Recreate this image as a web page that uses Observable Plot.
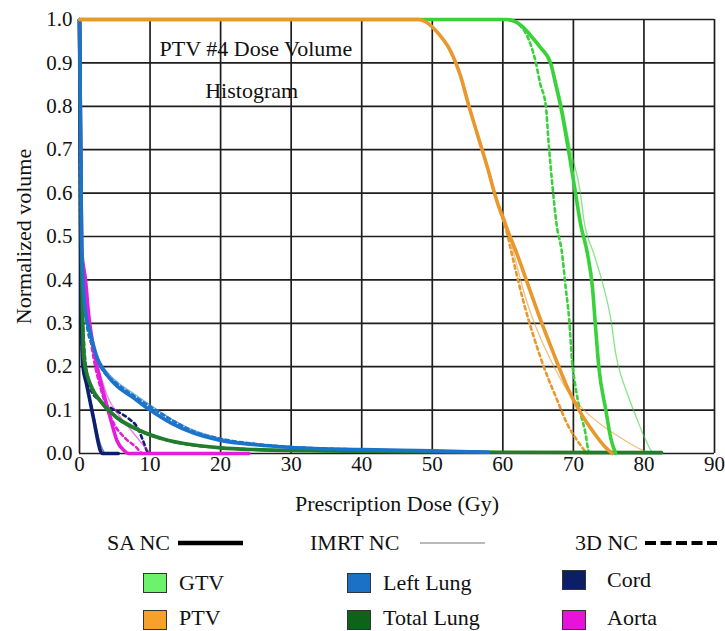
<!DOCTYPE html>
<html>
<head>
<meta charset="utf-8">
<script src="https://cdn.jsdelivr.net/npm/d3@7"></script>
<script src="https://cdn.jsdelivr.net/npm/@observablehq/plot@0.6"></script>
<style>
  html, body { margin: 0; padding: 0; background: #fff; }
  #page { position: relative; width: 725px; height: 631px; background: #fff; overflow: hidden;
          font-family: "Liberation Serif", "Times New Roman", serif; color: #111; }
  #chart svg { display: block; }
  .lg { position: absolute; font-size: 22px; line-height: 22px; white-space: nowrap; }
  .sw { position: absolute; width: 24px; height: 20px; box-sizing: border-box; border: 1px solid #333; }
  .ln { position: absolute; }
</style>
</head>
<body>
<div id="page">
  <div id="chart"></div>
  <div id="legend"></div>
</div>
<script>
// Dose–volume histogram curves: [dose (Gy), normalized volume]
const structures = ["Aorta", "Cord", "Total Lung", "Left Lung", "GTV", "PTV"];
const structureColors = ["#e41ed8", "#0b1f70", "#1f7d2c", "#1b74c9", "#39d23b", "#e8982c"];
const swatchColors = { GTV: "#6cf26c", PTV: "#f5a12a", "Left Lung": "#1a71c6", "Total Lung": "#0d6418", Cord: "#0c1f66", Aorta: "#e812d8" };

const xTicks = [0, 10, 20, 30, 40, 50, 60, 70, 80, 90];
const yTicks = [0, 0.1, 0.2, 0.3, 0.4, 0.5, 0.6, 0.7, 0.8, 0.9, 1.0];

// GTV
const gtvSA = [[0,1],[60.5,1],[61.8,0.995],[62.9,0.982],[64,0.962],[65.3,0.936],[66.8,0.898],[67.5,0.85],[68.2,0.8],[69.3,0.7],[70.3,0.6],[71,0.53],[72,0.46],[72.7,0.383],[73.1,0.3],[73.6,0.2],[74.6,0.1],[75.3,0.035],[76,0]];
const gtvIMRT = [[0,1],[60.5,1],[62,0.99],[63.5,0.97],[65.3,0.94],[66.8,0.9],[68.4,0.8],[69.6,0.7],[71,0.6],[71.5,0.537],[72.9,0.46],[74.3,0.383],[75.3,0.31],[76,0.23],[76.4,0.2],[77.6,0.14],[79,0.08],[80,0.04],[81.2,0.003],[81.5,0]];
const gtv3D = [[0,1],[60.5,1],[62.5,0.985],[63.5,0.96],[64.6,0.906],[65.3,0.852],[66.1,0.8],[66.5,0.714],[67,0.622],[67.6,0.53],[68.4,0.46],[68.9,0.383],[69.4,0.31],[69.8,0.215],[70.3,0.154],[71,0.094],[71.7,0.048],[72.2,0.003],[72.5,0]];

// PTV
const ptvSA = [[0,1],[48,1],[49.5,0.99],[51,0.965],[52.5,0.93],[54,0.87],[55.2,0.8],[56.5,0.73],[57.8,0.66],[59,0.59],[60.3,0.53],[62,0.46],[63.7,0.383],[65.3,0.31],[67.2,0.23],[69.1,0.154],[71,0.094],[72.9,0.048],[74.5,0.015],[75.5,0]];
const ptvIMRT = [[0,1],[48,1],[49.5,0.99],[51,0.965],[52.5,0.93],[54,0.87],[55.2,0.8],[56.5,0.73],[57.8,0.66],[59,0.59],[60.4,0.537],[61.8,0.445],[63.2,0.36],[64.9,0.283],[66.8,0.215],[69.1,0.146],[71.5,0.1],[74.3,0.062],[77.2,0.031],[79.5,0.01],[81,0]];
const ptv3D = [[0,1],[48,1],[49.5,0.99],[51,0.965],[52.5,0.93],[54,0.87],[55.2,0.8],[56.5,0.73],[57.8,0.66],[59,0.59],[60.4,0.52],[61.6,0.437],[63,0.345],[64.4,0.268],[65.8,0.2],[67.7,0.123],[69.1,0.069],[70.5,0.031],[71.7,0.005],[72,0]];

// Left Lung
const leftLungSA = [[0,1],[0.3,0.49],[0.8,0.33],[1.5,0.28],[2.5,0.22],[3.5,0.19],[5,0.16],[7.5,0.13],[10,0.1],[13,0.07],[16,0.048],[20,0.03],[25,0.02],[30,0.014],[40,0.009],[50,0.006],[58,0.003]];
const leftLungIMRT = [[0,1],[0.3,0.5],[1,0.33],[2,0.25],[3,0.21],[5,0.17],[7.5,0.14],[10,0.112],[13,0.08],[16,0.055],[20,0.035],[25,0.022],[30,0.016],[40,0.01],[50,0.006],[58,0.003]];
const leftLung3D = [[0,1],[0.3,0.45],[1,0.3],[2,0.24],[3,0.2],[5,0.165],[7.5,0.135],[10,0.108],[13,0.078],[16,0.052],[20,0.034],[25,0.022],[30,0.015],[40,0.009],[50,0.006],[58,0.003]];

// Total Lung
const totalLungSA = [[0,1],[0.3,0.45],[0.6,0.22],[1.5,0.16],[3,0.12],[5.5,0.08],[8.5,0.053],[12,0.033],[16,0.02],[20,0.013],[25,0.009],[35,0.006],[50,0.004],[60,0.003],[82.5,0.002]];
const totalLungIMRT = [[0,1],[0.3,0.5],[1,0.2],[2,0.15],[3,0.125],[5,0.09],[7.5,0.065],[10,0.045],[13,0.03],[16,0.02],[20,0.014],[25,0.01],[35,0.006],[50,0.004],[58,0.003]];
const totalLung3D = [[0,1],[0.3,0.4],[1,0.19],[2,0.145],[3,0.12],[5,0.085],[7.5,0.06],[10,0.042],[13,0.028],[16,0.019],[20,0.013],[25,0.009],[35,0.006],[50,0.004],[58,0.003]];

// Cord
const cordSA = [[0,1],[0.2,0.4],[0.5,0.2],[1,0.16],[2,0.08],[3,0.005],[3.3,0],[5.5,0]];
const cordIMRT = [[0,1],[0.3,0.25],[1,0.17],[2,0.09],[3,0.02],[3.6,0]];
const cord3D = [[0,1],[0.2,0.3],[0.6,0.2],[1.5,0.15],[3,0.12],[5,0.1],[7,0.08],[8.2,0.06],[9,0.03],[9.6,0.005],[10,0]];

// Aorta
const aortaSA = [[0,1],[0.3,0.47],[0.85,0.4],[1.3,0.32],[1.8,0.26],[2.5,0.2],[3.4,0.14],[4.4,0.08],[5.3,0.03],[6.3,0.007],[7,0],[24,0]];
const aortaIMRT = [[0,1],[0.3,0.42],[1,0.35],[2,0.24],[3,0.18],[4,0.13],[5.5,0.09],[7,0.06],[8.5,0.03],[9.5,0.01],[10.2,0]];
const aorta3D = [[0,1],[0.3,0.4],[1,0.33],[2,0.22],[3,0.15],[4,0.1],[5,0.065],[6.5,0.035],[8,0.015],[9,0],[9.3,0]];

const series = [
  ["Aorta", "SA", aortaSA], ["Aorta", "IMRT", aortaIMRT], ["Aorta", "3D", aorta3D],
  ["Cord", "SA", cordSA], ["Cord", "IMRT", cordIMRT], ["Cord", "3D", cord3D],
  ["Total Lung", "SA", totalLungSA], ["Total Lung", "IMRT", totalLungIMRT], ["Total Lung", "3D", totalLung3D],
  ["Left Lung", "SA", leftLungSA], ["Left Lung", "IMRT", leftLungIMRT], ["Left Lung", "3D", leftLung3D],
  ["GTV", "SA", gtvSA], ["GTV", "IMRT", gtvIMRT], ["GTV", "3D", gtv3D],
  ["PTV", "SA", ptvSA], ["PTV", "IMRT", ptvIMRT], ["PTV", "3D", ptv3D]
];

const rows = series.flatMap(([structure, plan, pts]) =>
  pts.map(([dose, vol]) => ({ structure, plan, key: structure + " " + plan, dose, vol })));
const byPlan = plan => rows.filter(d => d.plan === plan);

const titleLines = [
  { text: "PTV #4 Dose Volume", dose: 25, vol: 0.933 },
  { text: "Histogram", dose: 24.4, vol: 0.836 }
];

const font = '"Liberation Serif", "Times New Roman", serif';
const lineOpts = { x: "dose", y: "vol", z: "key", stroke: "structure", curve: "monotone-x" };

const chart = Plot.plot({
  width: 725,
  height: 520,
  marginLeft: 79,
  marginRight: 11,
  marginTop: 19,
  marginBottom: 67,
  style: { fontFamily: font, fontSize: "22px", color: "#111", background: "#fff", overflow: "visible" },
  x: { domain: [0, 90] },
  y: { domain: [0, 1] },
  color: { domain: structures, range: structureColors },
  marks: [
    Plot.gridX(xTicks, { stroke: "#1e1e1e", strokeOpacity: 1, strokeWidth: 1.7 }),
    Plot.gridY(yTicks, { stroke: "#1e1e1e", strokeOpacity: 1, strokeWidth: 1.7 }),
    Plot.axisX(xTicks, { tickSize: 0, tickPadding: 3, fontSize: 21, label: null }),
    Plot.axisY(yTicks, { tickSize: 0, tickPadding: 7, fontSize: 21, tickFormat: d => d.toFixed(1), label: null }),
    Plot.axisX({ ticks: [], label: "Prescription Dose (Gy)", labelAnchor: "center", labelArrow: "none", labelOffset: 57, fontSize: 22 }),
    Plot.axisY({ ticks: [], label: "Normalized volume", labelAnchor: "center", labelArrow: "none", labelOffset: 64, fontSize: 22 }),
    Plot.line(byPlan("3D"), { ...lineOpts, strokeWidth: 2.6, strokeDasharray: "3.5,3.5" }),
    Plot.line(byPlan("IMRT"), { ...lineOpts, strokeWidth: 1.3, strokeOpacity: 0.6 }),
    Plot.line(byPlan("SA"), { ...lineOpts, strokeWidth: 3.6 }),
    Plot.text(titleLines, { x: "dose", y: "vol", text: "text", fontSize: 22, fill: "#111" })
  ]
});
document.getElementById("chart").appendChild(chart);

// Legend: plan line styles (row 1) and structure swatches (rows 2–3)
const planKey = [
  { label: "SA NC", left: 107, lineFrom: 178, lineTo: 243, width: 4.5, dash: null, color: "#000" },
  { label: "IMRT NC", left: 310, lineFrom: 420, lineTo: 485, width: 1.2, dash: null, color: "#777" },
  { label: "3D NC", left: 575, lineFrom: 645, lineTo: 717, width: 4, dash: "11,4.5", color: "#000" }
];
const structureKey = [
  { label: "GTV", left: 143, top: 573 }, { label: "PTV", left: 143, top: 610 },
  { label: "Left Lung", left: 347, top: 573 }, { label: "Total Lung", left: 347, top: 610 },
  { label: "Cord", left: 562, top: 570 }, { label: "Aorta", left: 562, top: 610 }
];
const legend = d3.select("#legend");
const rowY = 543;
planKey.forEach(p => {
  legend.append("div").attr("class", "lg").style("left", p.left + "px").style("top", (rowY - 11) + "px").text(p.label);
  const s = legend.append("svg").attr("class", "ln")
    .style("left", p.lineFrom + "px").style("top", (rowY - 5) + "px")
    .attr("width", p.lineTo - p.lineFrom).attr("height", 10);
  s.append("line").attr("x1", 0).attr("x2", p.lineTo - p.lineFrom).attr("y1", 5).attr("y2", 5)
    .attr("stroke", p.color).attr("stroke-width", p.width).attr("stroke-dasharray", p.dash);
});
structureKey.forEach(k => {
  legend.append("div").attr("class", "sw").style("left", k.left + "px").style("top", k.top + "px")
    .style("background", swatchColors[k.label]);
  legend.append("div").attr("class", "lg").style("left", (k.left + 36 + (k.left > 500 ? 9 : 0)) + "px")
    .style("top", (k.top - (k.top > 600 ? 3 : 1)) + "px").text(k.label);
});
</script>
</body>
</html>
